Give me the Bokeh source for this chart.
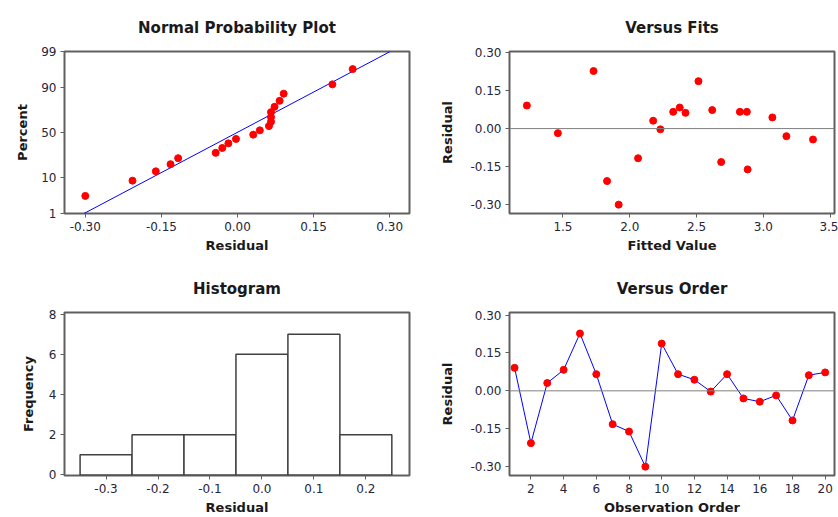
from statistics import NormalDist
import numpy as np
from bokeh.plotting import figure
from bokeh.models import FixedTicker, PrintfTickFormatter, Span, Range1d
from bokeh.layouts import column, row
from bokeh.embed import file_html
from bokeh.resources import INLINE

# ---------------- data ----------------
observation = list(range(1, 21))
residuals = [0.091, -0.207, 0.031, 0.083, 0.227, 0.066, -0.132, -0.161, -0.300, 0.187,
             0.066, 0.044, -0.003, 0.066, -0.030, -0.043, -0.018, -0.117, 0.062, 0.073]
fitted = [1.230, 1.830, 2.175, 2.374, 1.729, 2.325, 2.684, 2.882, 1.917, 2.514,
          2.824, 3.067, 2.229, 2.876, 3.172, 3.371, 1.462, 2.062, 2.417, 2.617]
hist_mid = [-0.3, -0.2, -0.1, 0.0, 0.1, 0.2]
hist_count = [1, 2, 2, 6, 7, 2]
hist_width = 0.1
pct_ticks = [1, 10, 50, 90, 99]
resid_ticks = [-0.30, -0.15, 0.00, 0.15, 0.30]
fit_ticks = [1.5, 2.0, 2.5, 3.0, 3.5]
hist_x_ticks = [-0.3, -0.2, -0.1, 0.0, 0.1, 0.2]
freq_ticks = [0, 2, 4, 6, 8]
order_ticks = [2, 4, 6, 8, 10, 12, 14, 16, 18, 20]

FONT = "DejaVu Sans"
FRAME = "#606060"
TXT = "#26263a"
RED = "#ff0000"
BLUE = "#0000ff"

nd = NormalDist()


def make_fig(w, h, xr, yr, title, xlabel, ylabel, mb, ylab_standoff=12, title_standoff=30):
    p = figure(width=w, height=h, x_range=Range1d(*xr), y_range=Range1d(*yr),
               output_backend="svg", toolbar_location=None,
               min_border_left=mb[0], min_border_right=mb[1],
               min_border_top=mb[2], min_border_bottom=mb[3],
               background_fill_color="white", border_fill_color="white")
    p.title.text = title
    p.title.align = "center"
    p.title.text_font = FONT
    p.title.text_font_size = "15px"
    p.title.text_font_style = "bold"
    p.title.text_color = "#1a1a1a"
    p.title.standoff = title_standoff
    p.xgrid.visible = False
    p.ygrid.visible = False
    p.outline_line_color = FRAME
    p.outline_line_width = 2
    for ax in (p.xaxis[0], p.yaxis[0]):
        ax.axis_line_color = None
        ax.major_tick_in = 0
        ax.major_tick_out = 4
        ax.major_tick_line_color = FRAME
        ax.minor_tick_line_color = None
        ax.major_label_text_font = FONT
        ax.major_label_text_font_size = "12px"
        ax.major_label_text_color = TXT
        ax.major_label_standoff = 4
        ax.axis_label_text_font = FONT
        ax.axis_label_text_font_size = "13px"
        ax.axis_label_text_font_style = "bold"
        ax.axis_label_text_color = "#1a1a1a"
    p.xaxis[0].axis_label = xlabel
    p.yaxis[0].axis_label = ylabel
    p.xaxis[0].axis_label_standoff = 4
    p.yaxis[0].axis_label_standoff = ylab_standoff
    return p


# ---------------- Normal probability plot ----------------
n = len(residuals)
sorted_res = sorted(residuals)
z_pos = [nd.inv_cdf((i + 1 - 0.3) / (n + 0.4)) for i in range(n)]
mu = float(np.mean(residuals))
sd = float(np.std(residuals, ddof=1))
z_lo, z_hi = nd.inv_cdf(0.01), nd.inv_cdf(0.99)

p1 = make_fig(419, 258, (-0.341, 0.339), (z_lo - 0.0002, z_hi + 0.0002), "Normal Probability Plot",
              "Residual", "Percent", (64, 10, 50, 45), ylab_standoff=8, title_standoff=29)
p1.line([mu + sd * z_lo, mu + sd * z_hi], [z_lo, z_hi], line_color=BLUE, line_width=1)
p1.scatter(sorted_res, z_pos, size=7, marker="circle", fill_color=RED, line_color=RED)
z_ticks = [round(nd.inv_cdf(t / 100), 6) for t in pct_ticks]
p1.yaxis[0].ticker = FixedTicker(ticks=z_ticks)
p1.yaxis[0].major_label_overrides = {z: str(t) for z, t in zip(z_ticks, pct_ticks)}
p1.xaxis[0].ticker = FixedTicker(ticks=resid_ticks)
p1.xaxis[0].formatter = PrintfTickFormatter(format="%.2f")

# ---------------- Versus fits ----------------
p2 = make_fig(419, 258, (1.100, 3.532), (-0.335, 0.304), "Versus Fits",
              "Fitted Value", "Residual", (90, 4, 51, 45), title_standoff=30)
p2.add_layout(Span(location=0, dimension="width", line_color="#808080", line_width=1))
p2.scatter(fitted, residuals, size=7, marker="circle", fill_color=RED, line_color=RED)
p2.xaxis[0].ticker = FixedTicker(ticks=fit_ticks)
p2.xaxis[0].formatter = PrintfTickFormatter(format="%.1f")
p2.yaxis[0].ticker = FixedTicker(ticks=resid_ticks)
p2.yaxis[0].formatter = PrintfTickFormatter(format="%.2f")

# ---------------- Histogram ----------------
p3 = make_fig(419, 259, (-0.380, 0.284), (-0.03, 8.08), "Histogram",
              "Residual", "Frequency", (64, 10, 54, 40), ylab_standoff=10, title_standoff=30)
p3.quad(left=[m - hist_width / 2 for m in hist_mid], right=[m + hist_width / 2 for m in hist_mid],
        bottom=0, top=hist_count, fill_color="white", line_color="#404040", line_width=1.5)
p3.xaxis[0].ticker = FixedTicker(ticks=hist_x_ticks)
p3.xaxis[0].formatter = PrintfTickFormatter(format="%.1f")
p3.yaxis[0].ticker = FixedTicker(ticks=freq_ticks)
p3.yaxis[0].formatter = PrintfTickFormatter(format="%d")

# ---------------- Versus order ----------------
p4 = make_fig(419, 259, (0.69, 20.57), (-0.335, 0.310), "Versus Order",
              "Observation Order", "Residual", (90, 4, 53, 40), title_standoff=30)
p4.add_layout(Span(location=0, dimension="width", line_color="#808080", line_width=1))
p4.line(observation, residuals, line_color=BLUE, line_width=1)
p4.scatter(observation, residuals, size=7, marker="circle", fill_color=RED, line_color=RED)
p4.xaxis[0].ticker = FixedTicker(ticks=order_ticks)
p4.xaxis[0].formatter = PrintfTickFormatter(format="%d")
p4.yaxis[0].ticker = FixedTicker(ticks=resid_ticks)
p4.yaxis[0].formatter = PrintfTickFormatter(format="%.2f")

layout = column(row(p1, p2), row(p3, p4))
open("out.html", "w").write(file_html(layout, INLINE))
